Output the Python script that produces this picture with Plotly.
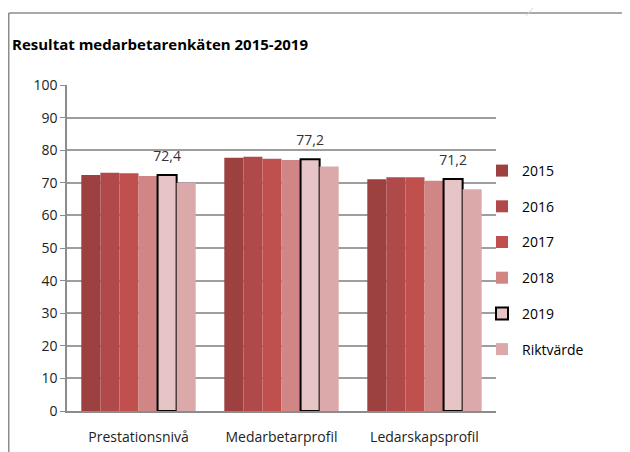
import plotly.graph_objects as go

categories = ["Prestationsnivå", "Medarbetarprofil", "Ledarskapsprofil"]
series_names = ["2015", "2016", "2017", "2018", "2019", "Riktvärde"]
v2015 = [72.4, 77.7, 71.1]
v2016 = [73.1, 78.0, 71.7]
v2017 = [72.9, 77.4, 71.7]
v2018 = [72.1, 77.0, 70.6]
v2019 = [72.4, 77.2, 71.2]
vrikt = [70, 75, 68]
y_ticks = [0, 10, 20, 30, 40, 50, 60, 70, 80, 90, 100]

values = [v2015, v2016, v2017, v2018, v2019, vrikt]
colors = ["#9C4040", "#B04A4A", "#C0504D", "#D08684", "#E7C5C6", "#DCA9AA"]

# page body has an 8px margin; positions below are in figure coordinates
W, H = 630, 452
L, R, T, B = 59, 488, 77, 403
PW, PH = R - L, B - T

fig = go.Figure()
for name, vals, col in zip(series_names, values, colors):
    is2019 = name == "2019"
    fig.add_trace(go.Bar(
        x=categories, y=vals, name=name,
        marker=dict(color=col,
                    line=dict(color="#000000" if is2019 else col, width=2 if is2019 else 0)),
        text=["<span style='font-size:14px'>" + f"{v:.1f}".replace(".", ",") + "</span><br>&nbsp;"
              for v in vals] if is2019 else None,
        textposition="outside" if is2019 else None,
        constraintext="none",
        textfont=dict(family="Open Sans, sans-serif", size=7, color="#333333"),
        cliponaxis=False,
        legendgroup=name,
    ))

fig.update_layout(
    width=W, height=H,
    barmode="group", bargap=0.2, bargroupgap=0,
    paper_bgcolor="white", plot_bgcolor="white",
    margin=dict(l=L, r=W - R, t=T, b=H - B, autoexpand=False),
    font=dict(family="Open Sans, sans-serif", size=13, color="#222222"),
    title=dict(text="<b>Resultat medarbetarenkäten 2015-2019</b>",
               x=4 / W, xanchor="left", y=1 - 37 / H, yanchor="middle",
               font=dict(size=15, color="#000000")),
    legend=dict(x=(474 - L) / PW, xanchor="left", y=(B - 252) / PH, yanchor="middle",
                font=dict(size=14, color="#000000"), tracegroupgap=14.5,
                bgcolor="rgba(0,0,0,0)", itemwidth=30),
    showlegend=True,
    separators=", ",
)
fig.update_yaxes(range=[0, 100], tickvals=y_ticks, showgrid=True, gridcolor="#9E9E9E",
                 gridwidth=1.5, showline=True, linecolor="#8C8C8C", linewidth=1.5,
                 ticks="outside", ticklen=5, tickcolor="#8C8C8C",
                 tickfont=dict(size=14, color="#222222"), zeroline=False)
fig.update_xaxes(showline=True, linecolor="#8C8C8C", linewidth=2, ticks="",
                 ticklabelstandoff=12,
                 tickfont=dict(size=14, color="#222222"))

# chart frame
top_y = (B - 5) / PH
left_x = (0.75 - L) / PW
fig.add_shape(type="line", xref="paper", yref="paper",
              x0=left_x, x1=(W - L) / PW, y0=top_y, y1=top_y,
              line=dict(color="#8C8C8C", width=1.5))
fig.add_shape(type="line", xref="paper", yref="paper",
              x0=left_x, x1=left_x, y0=top_y, y1=(B - H) / PH,
              line=dict(color="#8C8C8C", width=1.5))
fig.add_shape(type="line", xref="paper", yref="paper",
              x0=(518 - L) / PW, x1=(532 - L) / PW, y0=(B - 8) / PH, y1=(B + 8) / PH,
              line=dict(color="#D8D8D8", width=1))

fig.write_html("out.html")
